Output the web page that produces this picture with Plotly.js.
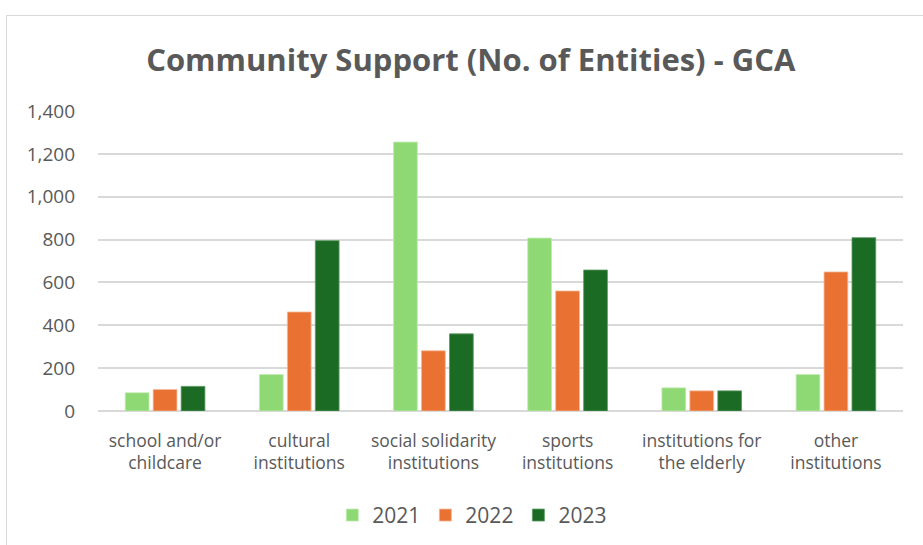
<!DOCTYPE html>
<html>
<head>
<meta charset="utf-8">
<script src="https://cdn.plot.ly/plotly-3.0.1.min.js"></script>
<style>
  html, body { margin: 0; padding: 0; background: #ffffff; }
  #wrap { position: relative; width: 923px; height: 545px; overflow: hidden; }
  #chart { width: 923px; height: 545px; }
  #frame { position: absolute; left: 6px; top: 15px; width: 940px; height: 560px;
           border-left: 1.5px solid #d9d9d9; border-top: 1.5px solid #d9d9d9; pointer-events: none; }
</style>
</head>
<body>
<div id="wrap">
  <div id="chart"></div>
  <div id="frame"></div>
</div>
<script>
// Categories of supported entities
const categories = [
  "school and/or<br>childcare",
  "cultural<br>institutions",
  "social solidarity<br>institutions",
  "sports<br>institutions",
  "institutions for<br>the elderly",
  "other<br>institutions"
];

// Number of entities per year
const years = ["2021", "2022", "2023"];
const values2021 = [85, 170, 1255, 807, 108, 170];
const values2022 = [100, 462, 281, 560, 94, 649];
const values2023 = [115, 795, 360, 658, 94, 809];

const yTicks = [0, 200, 400, 600, 800, 1000, 1200, 1400];

const colors = ["#8fd974", "#e97132", "#1b6b24"];
const outlines = ["#bfeab0", "#f5b897", "#5e9a64"];
const seriesValues = [values2021, values2022, values2023];

const traces = years.map((yr, i) => ({
  type: "bar",
  name: yr,
  x: categories,
  y: seriesValues[i],
  marker: { color: colors[i], line: { color: outlines[i], width: 0.8 } },
  hoverinfo: "x+y+name"
}));

const textColor = "#595959";

const layout = {
  width: 923,
  height: 545,
  paper_bgcolor: "#ffffff",
  plot_bgcolor: "#ffffff",
  margin: { l: 98, r: 20, t: 111, b: 133.5, autoexpand: false },
  font: { family: "'Open Sans', 'Noto Sans', sans-serif", color: textColor, size: 16 },
  title: {
    text: "<b>Community Support (No. of Entities) - GCA</b>",
    font: { family: "'Open Sans', 'Noto Sans', sans-serif", size: 31, color: textColor },
    x: 0.51,
    xanchor: "center",
    y: 0.89,
    yanchor: "middle"
  },
  barmode: "group",
  bargap: 0.375,
  bargroupgap: 0.15,
  xaxis: {
    type: "category",
    automargin: false,
    showgrid: false,
    showline: false,
    zeroline: false,
    ticks: "",
    tickfont: { size: 17.5, color: textColor },
    ticklabelstandoff: 17
  },
  yaxis: {
    range: [0, 1400],
    automargin: false,
    tickvals: yTicks,
    tickformat: ",",
    showgrid: true,
    gridcolor: "#d9d9d9",
    gridwidth: 1.5,
    zeroline: true,
    zerolinecolor: "#d9d9d9",
    zerolinewidth: 1.5,
    showline: false,
    ticks: "",
    tickfont: { size: 19, color: textColor },
    ticklabelstandoff: 22
  },
  showlegend: true,
  legend: {
    orientation: "h",
    x: 0.465,
    xanchor: "center",
    y: -0.348,
    yanchor: "middle",
    font: { size: 21, color: textColor },
    itemwidth: 30,
    traceorder: "normal"
  }
};

Plotly.newPlot("chart", traces, layout, { displayModeBar: false, staticPlot: false });
</script>
</body>
</html>
